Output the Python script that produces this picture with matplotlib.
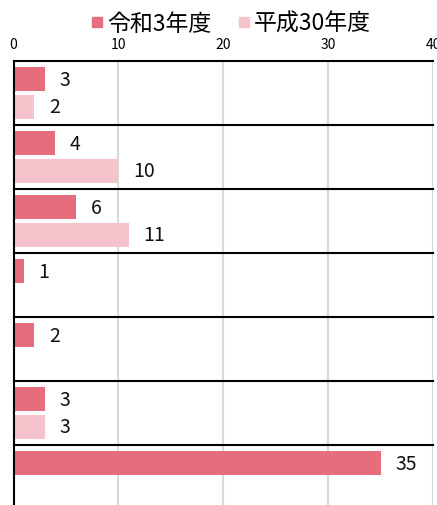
import matplotlib
matplotlib.use("Agg")
import matplotlib.pyplot as plt
from matplotlib.lines import Line2D
import numpy as np

plt.rcParams['font.family'] = ['Noto Sans CJK JP', 'DejaVu Sans']

series_names = ['令和3年度', '平成30年度']
r3_values = [3, 4, 6, 1, 2, 3, 35]
h30_values = [2, 10, 11, None, None, 3, None]
x_ticks = [0, 10, 20, 30, 40]
colors = ['#E66D7E', '#F5C3CC']

fig = plt.figure(figsize=(4.37, 5.06), dpi=100)
ax = fig.add_axes([13.5 / 437, -4 / 506, 419.5 / 437, 448 / 506])

n = len(r3_values)
bar_h = 0.37
offset = 0.215

for i in range(n):
    for vals, off, col in ((r3_values, -offset, colors[0]), (h30_values, offset, colors[1])):
        v = vals[i]
        if v is None:
            continue
        ax.barh(i + off, v, height=bar_h, color=col, zorder=3)
        ax.annotate(f'{v}', xy=(v, i + off), xytext=(10.5, 0), textcoords='offset points',
                    ha='left', va='center', fontsize=14, color='#111111', zorder=4)

ax.set_xlim(0, 40)
ax.set_ylim(n - 0.5, -0.5)
ax.xaxis.tick_top()
ax.set_xticks(x_ticks)
ax.set_xticklabels([str(t) for t in x_ticks], fontsize=10)
ax.tick_params(axis='x', length=0, pad=7.5)
ax.set_yticks([])
ax.grid(axis='x', color='#D9D9D9', linewidth=1.5, zorder=0)

for s in ['top', 'right', 'bottom']:
    ax.spines[s].set_visible(False)
ax.spines['left'].set_color('black')
ax.spines['left'].set_linewidth(1.5)
ax.spines['left'].set_zorder(5)

for b in np.arange(n + 1) - 0.5:
    ax.axhline(b, color='black', linewidth=1.5, zorder=5, clip_on=False)

handles = [Line2D([0], [0], marker='s', linestyle='none', markersize=7,
                  markerfacecolor=c, markeredgecolor=c) for c in colors]
fig.legend(handles, series_names, loc='upper center', bbox_to_anchor=(0.525, 1.015),
           ncol=2, frameon=False, fontsize=16.5, handletextpad=0.05, columnspacing=1.0,
           handlelength=0.8)

fig.savefig('out.png', dpi=100)
